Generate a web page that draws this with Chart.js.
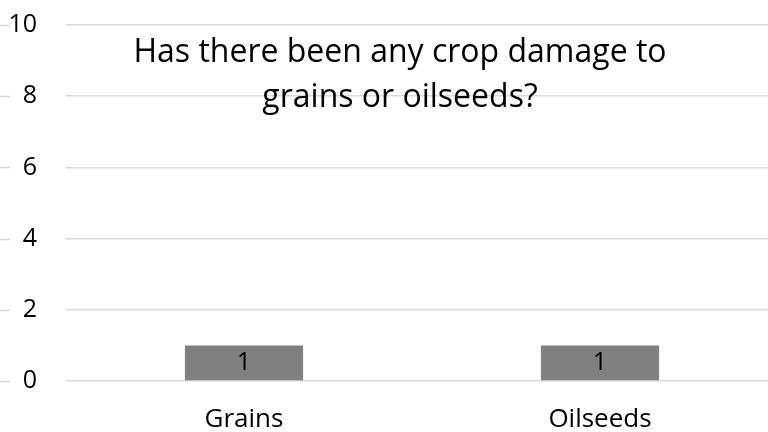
<!DOCTYPE html>
<html>
<head>
<meta charset="utf-8">
<script src="https://cdn.jsdelivr.net/npm/chart.js@4.4.0/dist/chart.umd.min.js"></script>
<style>
    html, body { margin: 0; padding: 0; background: #fff; overflow: hidden; }
    #wrap { width: 778px; height: 432px; position: relative; }
</style>
</head>
<body>
<div id="wrap"><canvas id="cropChart"></canvas></div>
<script>
// Crop damage survey chart

const categories = ["Grains", "Oilseeds"];
const responses = [1, 1];
const yTicks = [0, 2, 4, 6, 8, 10];
const titleLines = ["Has there been any crop damage to", "grains or oilseeds?"];

const FONT = "'Open Sans', 'Noto Sans', sans-serif";
const GRID = '#d9d9d9';

// short dashes at far left for each gridline
const leftDashes = {
    id: 'leftDashes',
    beforeDatasetsDraw(chart) {
        const y = chart.scales.y;
        const ctx = chart.ctx;
        ctx.save();
        ctx.strokeStyle = GRID;
        ctx.lineWidth = 1.5;
        yTicks.forEach(v => {
            const py = Math.round(y.getPixelForValue(v)) + 0.5;
            ctx.beginPath();
            ctx.moveTo(0, py);
            ctx.lineTo(10, py);
            ctx.stroke();
        });
        ctx.restore();
    }
};

const valueLabels = {
    id: 'valueLabels',
    afterDatasetsDraw(chart) {
        const ctx = chart.ctx;
        const meta = chart.getDatasetMeta(0);
        ctx.save();
        ctx.fillStyle = '#000';
        ctx.font = '25px ' + FONT;
        ctx.textAlign = 'center';
        ctx.textBaseline = 'middle';
        meta.data.forEach((bar, i) => {
            ctx.fillText(String(responses[i]), bar.x, (bar.y + bar.base) / 2);
        });
        ctx.restore();
    }
};

const overlayTitle = {
    id: 'overlayTitle',
    afterDraw(chart) {
        const ctx = chart.ctx;
        ctx.save();
        ctx.fillStyle = '#000';
        ctx.font = '32px ' + FONT;
        ctx.textAlign = 'center';
        ctx.textBaseline = 'middle';
        titleLines.forEach((line, i) => {
            ctx.fillText(line, 400, 53 + i * 45);
        });
        ctx.restore();
    }
};

function initializeChart() {
    const ctx = document.getElementById('cropChart').getContext('2d');
    new Chart(ctx, {
        type: 'bar',
        data: {
            labels: categories,
            datasets: [{
                data: responses,
                backgroundColor: '#808080',
                barPercentage: 1,
                categoryPercentage: 0.332
            }]
        },
        options: {
            responsive: true,
            maintainAspectRatio: false,
            animation: false,
            layout: { padding: { top: 25, right: 0, bottom: 0, left: 0 } },
            plugins: {
                legend: { display: false },
                tooltip: { enabled: false }
            },
            scales: {
                y: {
                    min: 0,
                    max: 10,
                    afterFit: s => { s.width = 66; s.paddingTop = 0; s.paddingBottom = 0; },
                    afterBuildTicks: s => { s.ticks = yTicks.map(v => ({ value: v })); },
                    border: { display: false },
                    grid: { color: GRID, lineWidth: 1.5, drawTicks: false },
                    ticks: { padding: 29, color: '#000', font: { family: FONT, size: 25 } }
                },
                x: {
                    afterFit: s => { s.height = 51; },
                    border: { display: false },
                    grid: { display: false, drawTicks: false },
                    ticks: { padding: 23, color: '#000', font: { family: FONT, size: 26 } }
                }
            }
        },
        plugins: [leftDashes, valueLabels, overlayTitle]
    });
}

document.addEventListener('DOMContentLoaded', initializeChart);
</script>
</body>
</html>
